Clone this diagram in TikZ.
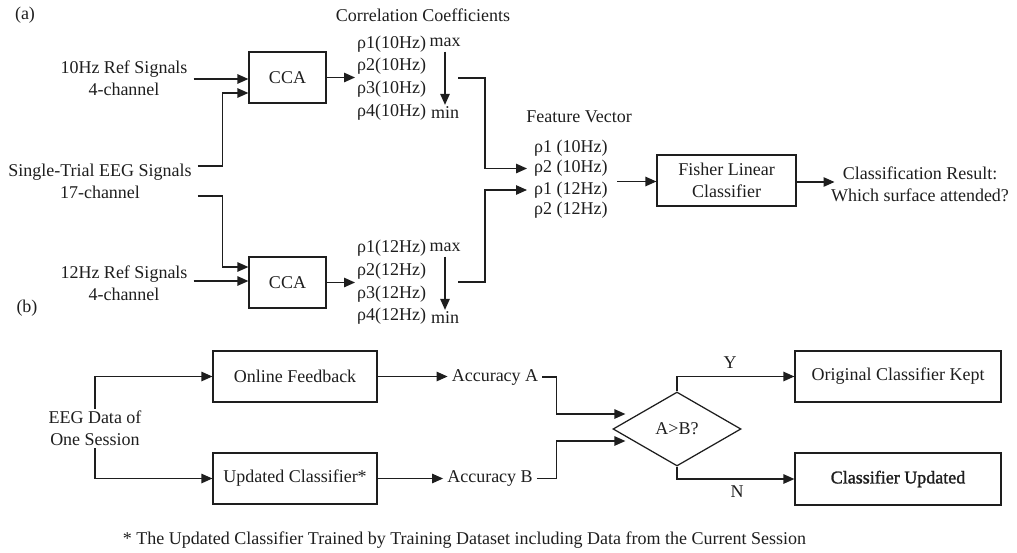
\documentclass[tikz,border=0pt]{standalone}
\usepackage{fontspec}
\setmainfont{Liberation Serif}
\newfontfamily\boldish[FakeBold=1.5]{Liberation Serif}
\usetikzlibrary{arrows.meta,shapes.geometric,calc}
\definecolor{ink}{RGB}{30,30,30}
\begin{document}
\begin{tikzpicture}[x=1pt,y=-1pt,
  every node/.style={text=ink, font=\fontsize{18}{22}\selectfont, inner sep=2pt},
  box/.style={draw=ink, line width=1.25pt},
  rholist/.style={anchor=west, align=left, font=\fontsize{18}{22.7}\selectfont},
  fvitem/.style={anchor=west, inner xsep=7pt},
  arr/.style={draw=ink, line width=1.25pt, -{Triangle[length=11pt,width=9.5pt]}}]
\useasboundingbox (0,0) rectangle (1017,552);

% ---------- part (a) ----------
\node (a) at (25,15) {(a)};
\node (b) at (27,308) {(b)};
\node (cc) at (423,15) {Correlation Coefficients};

\node[align=center] (ref10) at (124,78) {10Hz Ref Signals\\4-channel};
\node[align=center] (eeg) at (100,181.5) {Single-Trial EEG Signals\\17-channel};
\node[align=center] (ref12) at (124,283) {12Hz Ref Signals\\4-channel};

\node[box, minimum width=77pt, minimum height=51pt] (cca1) at (287.5,77.5) {CCA};
\node[box, minimum width=77pt, minimum height=51pt] (cca2) at (287.5,282.5) {CCA};

\draw[arr] ([xshift=4pt]ref10.east |- 0,79) -- (cca1.west |- 0,79);
\draw[arr] ([xshift=4pt]eeg.east |- 0,166) -| ([xshift=-26pt]cca1.west |- 0,93) -- (cca1.west |- 0,93);
\draw[arr] ([xshift=4pt]eeg.east |- 0,196) -| ([xshift=-26pt]cca2.west |- 0,267) -- (cca2.west |- 0,267);
\draw[arr] ([xshift=4pt]ref12.east |- 0,281) -- (cca2.west |- 0,281);

\node[rholist] (rhoA) at (355,78) {ρ1(10Hz)\\ρ2(10Hz)\\ρ3(10Hz)\\ρ4(10Hz)};
\node[rholist] (rhoB) at (355,282.5) {ρ1(12Hz)\\ρ2(12Hz)\\ρ3(12Hz)\\ρ4(12Hz)};
\draw[arr] (cca1.east) -- (cca1.east -| rhoA.west);
\draw[arr] (cca2.east) -- (cca2.east -| rhoB.west);

\node (maxA) at (445,42) {max};
\node (minA) at (445,113) {min};
\node (maxB) at (445,247) {max};
\node (minB) at (445,318) {min};
\draw[arr, shorten <=3pt] (maxA) -- (minA);
\draw[arr, shorten <=3pt] (maxB) -- (minB);

\node (fvt) at (579,117) {Feature Vector};
\node[fvitem] (fv1) at (527,148.5) {ρ1 (10Hz)};
\node[fvitem] (fv2) at (527,168.5) {ρ2 (10Hz)};
\node[fvitem] (fv3) at (527,190) {ρ1 (12Hz)};
\node[fvitem] (fv4) at (527,210.5) {ρ2 (12Hz)};

\coordinate (oA) at (458,78);
\coordinate (oB) at (458,282);
\draw[arr] (oA) -| ([xshift=-42pt]fv2.west) -- (fv2.west);
\draw[arr] (oB) -| ([xshift=-42pt]fv3.west) -- (fv3.west);

\node[box, minimum width=139pt, minimum height=51pt, align=center] (fisher) at (726.5,180.5) {Fisher Linear\\Classifier};
\coordinate (fvo) at (617,181.5);
\draw[arr] (fvo) -- (fvo -| fisher.west);

\node[align=center] (cls) at (920,184) {Classification Result:\\Which surface attended?};
\coordinate (clsin) at (834.5,182);
\draw[arr] (fisher.east |- clsin) -- (clsin);

% ---------- part (b) ----------
\node[align=center] (eegd) at (95,428.5) {EEG Data of\\One Session};
\node[box, minimum width=164pt, minimum height=51pt] (online) at (295,376.5) {Online Feedback};
\node[box, minimum width=164pt, minimum height=51pt] (upd) at (295,478.5) {Updated Classifier*};
\draw[arr] (eegd.north) |- (online.west);
\draw[arr] (eegd.south) |- (upd.west);

\node[inner xsep=4pt] (accA) at (495,377) {Accuracy A};
\node[inner xsep=4pt] (accB) at (490,478.5) {Accuracy B};
\draw[arr] (online.east) -- (online.east -| accA.west);
\draw[arr] (upd.east) -- (upd.east -| accB.west);

\node[draw=ink, line width=1.25pt, diamond, minimum width=128pt, minimum height=74pt, inner sep=0pt] (dia) at (677,429) {A>B?};
\draw[arr] (accA.east) -| ([shift={(-56,-15)}]dia.west) -- ([shift={(13,-15)}]dia.west);
\draw[arr] (accB.east) -| ([shift={(-56,12)}]dia.west) -- ([shift={(13,12)}]dia.west);

\node[box, minimum width=206pt, minimum height=51pt] (orig) at (898,376.5) {Original Classifier Kept};
\node[box, minimum width=206pt, minimum height=52pt] (updc) at (898,479) {\boldish Classifier Updated};
\draw[arr] (dia.north) |- (orig.west);
\draw[arr] (dia.south) |- (updc.west);
\node (ylab) at (730,363) {Y};
\node (nlab) at (737,492) {N};

\node (fn) at (464.5,540) {* The Updated Classifier Trained by Training Dataset including Data from the Current Session};
\end{tikzpicture}
\end{document}
